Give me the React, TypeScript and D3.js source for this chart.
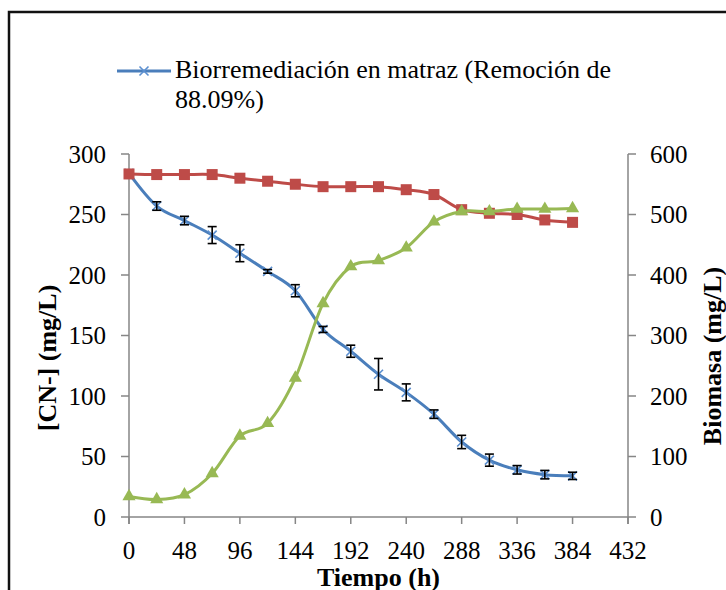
import React from 'react';
import * as d3 from 'd3';

// hours of sampling
const hours = [0, 24, 48, 72, 96, 120, 144, 168, 192, 216, 240, 264, 288, 312, 336, 360, 384];
// [CN-] mg/L (left axis) and its error
const cyanide = [284, 257, 245, 233, 218, 203, 187, 155, 137, 118, 103, 85, 62, 47, 39, 35, 34];
const cyanideErr = [0, 3.5, 3.5, 7, 7, 1.5, 5, 2.5, 5, 13, 7, 3.5, 5.5, 5, 3.5, 3.5, 3];
// right axis series
const redSeries = [567, 566, 566, 566, 560, 555, 550, 546, 546, 546, 541, 533, 508, 502, 500, 491, 487];
const biomass = [34, 29, 37, 72, 134, 155, 230, 353, 414, 424, 445, 488, 505, 505, 509, 509, 510];

const xTicks = [0, 48, 96, 144, 192, 240, 288, 336, 384, 432];
const leftTicks = [0, 50, 100, 150, 200, 250, 300];
const rightTicks = [0, 100, 200, 300, 400, 500, 600];

const legendLines = ['Biorremediación en matraz (Remoción de', '88.09%)'];

const font = 'Liberation Serif';
const axisColor = '#868686';
const blue = '#4A7EBB';
const red = '#BE4B48';
const green = '#98B954';

const W = 726, H = 590;
const plot = {l: 129, r: 628, t: 154, b: 517};

const x = d3.scaleLinear().domain([0, 432]).range([plot.l, plot.r]);
const yL = d3.scaleLinear().domain([0, 300]).range([plot.b, plot.t]);
const yR = d3.scaleLinear().domain([0, 600]).range([plot.b, plot.t]);

const curve = d3.curveCardinal.tension(0);

const lineL = d3.line<number>().x((_, i) => x(hours[i])).y(d => yL(d)).curve(curve);
const lineR = d3.line<number>().x((_, i) => x(hours[i])).y(d => yR(d)).curve(curve);

const Cross = ({cx, cy, s = 5, color = '#5B8FD0'}: {cx: number; cy: number; s?: number; color?: string}) => (
	<path d={`M${cx - s},${cy - s}L${cx + s},${cy + s}M${cx - s},${cy + s}L${cx + s},${cy - s}`} stroke={color} strokeWidth={1.6} fill='none'/>
);

const textStyle = {fontFamily: font};

export default function App() {
	const tri = d3.symbol().type(d3.symbolTriangle).size(75)();
	return (
		<svg width={W} height={H} style={{position: 'absolute', left: 0, top: 0, background: '#fff'}}>
			{/* outer frame */}
			<path d={`M9,${H + 5}L9,12L${W + 5},12`} stroke='#111' strokeWidth={2.5} fill='none'/>

			{/* legend */}
			<line x1={117} x2={171} y1={71} y2={71} stroke={blue} strokeWidth={3}/>
			<Cross cx={144} cy={71} s={4.5}/>
			{legendLines.map((t, i) => (
				<text key={i} x={175} y={78 + i * 30} fontSize={26} fill='#000' style={textStyle}>{t}</text>
			))}

			{/* axes */}
			<g stroke={axisColor} strokeWidth={1.5}>
				<line x1={plot.l} x2={plot.r} y1={plot.b} y2={plot.b}/>
				<line x1={plot.l} x2={plot.l} y1={plot.t} y2={plot.b + 7}/>
				<line x1={plot.r} x2={plot.r} y1={plot.t} y2={plot.b + 7}/>
				{xTicks.map(t => <line key={'x' + t} x1={x(t)} x2={x(t)} y1={plot.b} y2={plot.b + 7}/>)}
				{leftTicks.map(t => <line key={'l' + t} x1={plot.l - 8} x2={plot.l} y1={yL(t)} y2={yL(t)}/>)}
				{rightTicks.map(t => <line key={'r' + t} x1={plot.r} x2={plot.r + 8} y1={yR(t)} y2={yR(t)}/>)}
			</g>
			<g fontSize={25} fill='#000' style={textStyle}>
				{xTicks.map(t => <text key={'xt' + t} x={x(t)} y={559} textAnchor='middle'>{t}</text>)}
				{leftTicks.map(t => <text key={'lt' + t} x={106} y={yL(t) + 8.5} textAnchor='end'>{t}</text>)}
				{rightTicks.map(t => <text key={'rt' + t} x={650} y={yR(t) + 8.5}>{t}</text>)}
			</g>
			<g fontSize={26} fontWeight='bold' fill='#000' style={textStyle}>
				<text x={(plot.l + plot.r) / 2} y={586} textAnchor='middle'>Tiempo (h)</text>
				<text transform='translate(56,358) rotate(-90)' textAnchor='middle'>[CN-] (mg/L)</text>
				<text transform='translate(721,356) rotate(-90)' textAnchor='middle'>Biomasa (mg/L)</text>
			</g>

			{/* cyanide series */}
			<path d={lineL(cyanide) || ''} stroke={blue} strokeWidth={3} fill='none'/>
			{cyanide.map((v, i) => <Cross key={'c' + i} cx={x(hours[i])} cy={yL(v)} s={4.5}/>)}
			<g stroke='#000' strokeWidth={1.6}>
				{cyanide.map((v, i) => cyanideErr[i] > 0 && (
					<g key={'e' + i}>
						<line x1={x(hours[i])} x2={x(hours[i])} y1={yL(v + cyanideErr[i])} y2={yL(v - cyanideErr[i])}/>
						<line x1={x(hours[i]) - 4.5} x2={x(hours[i]) + 4.5} y1={yL(v + cyanideErr[i])} y2={yL(v + cyanideErr[i])}/>
						<line x1={x(hours[i]) - 4.5} x2={x(hours[i]) + 4.5} y1={yL(v - cyanideErr[i])} y2={yL(v - cyanideErr[i])}/>
					</g>
				))}
			</g>

			{/* red series */}
			<path d={lineR(redSeries) || ''} stroke={red} strokeWidth={3} fill='none'/>
			{redSeries.map((v, i) => <rect key={'r' + i} x={x(hours[i]) - 5.5} y={yR(v) - 5.5} width={11} height={11} fill={red}/>)}

			{/* biomass series */}
			<path d={lineR(biomass) || ''} stroke={green} strokeWidth={3} fill='none'/>
			{biomass.map((v, i) => <path key={'g' + i} d={tri || ''} transform={`translate(${x(hours[i])},${yR(v)})`} fill={green}/>)}
		</svg>
	);
}
